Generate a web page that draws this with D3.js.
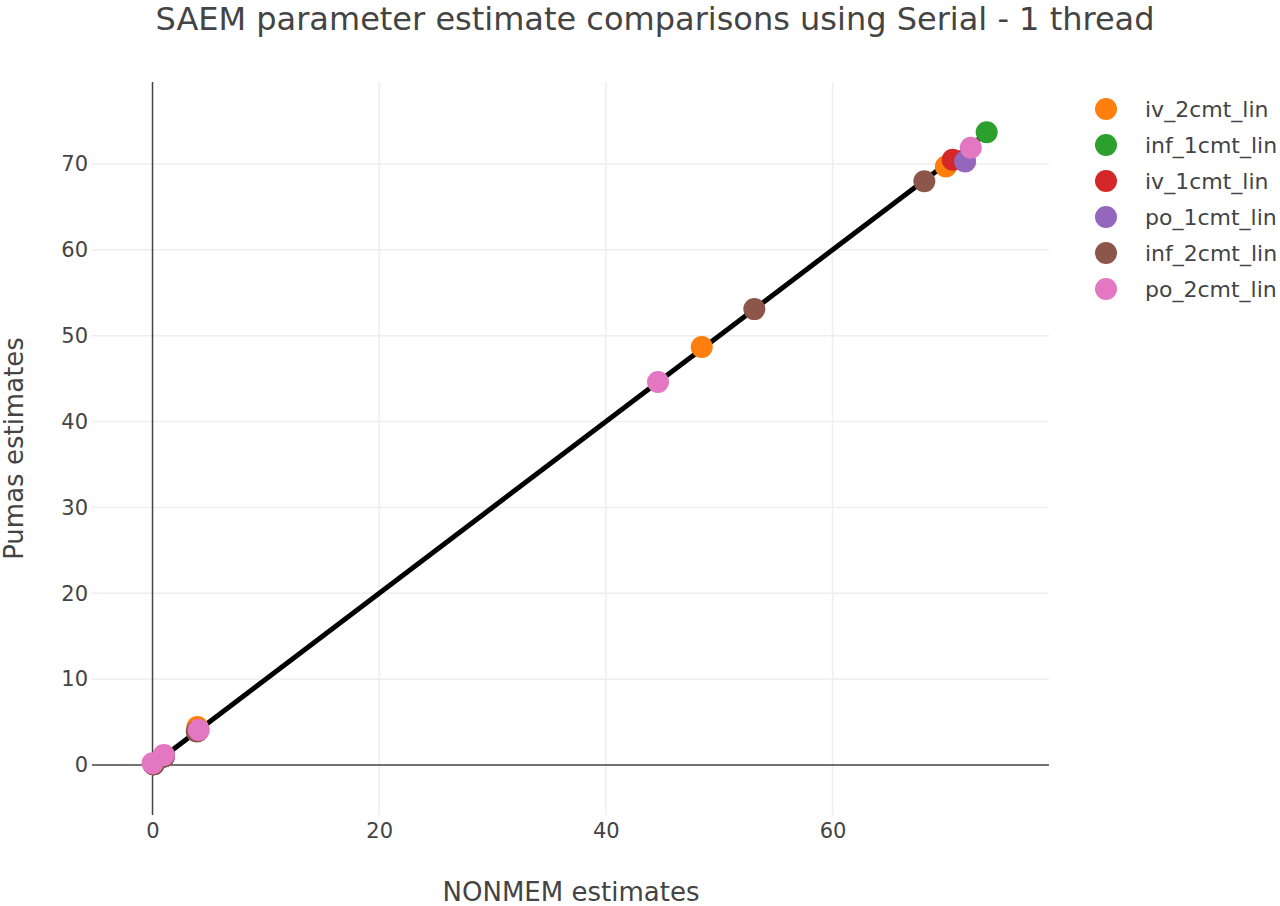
<!DOCTYPE html>
<html>
<head>
<meta charset="utf-8">
<script src="https://cdn.jsdelivr.net/npm/d3@7"></script>
<style>
  body { margin: 0; background: #fff; }
  svg { display: block; font-family: "DejaVu Sans", sans-serif; }
</style>
</head>
<body>
<div id="chart"></div>
<script>
// series names in legend order
const seriesNames = ['iv_2cmt_lin', 'inf_1cmt_lin', 'iv_1cmt_lin', 'po_1cmt_lin', 'inf_2cmt_lin', 'po_2cmt_lin'];
const seriesColors = ['#ff7f0e', '#2ca02c', '#d62728', '#9467bd', '#8c564b', '#e377c2'];

// NONMEM estimates (x) per series
const nonmemValues = [
  [0.1, 1.0, 3.96, 48.46, 70.0],
  [0.1, 1.0, 4.0, 73.6],
  [0.1, 1.0, 4.0, 70.6],
  [0.1, 1.0, 4.0, 71.7],
  [0.1, 1.0, 3.9, 53.1, 68.1],
  [0.0, 1.0, 4.08, 44.6, 72.2],
];
// Pumas estimates (y) per series
const pumasValues = [
  [0.1, 1.1, 4.43, 48.68, 69.7],
  [0.1, 1.0, 4.0, 73.7],
  [0.1, 1.0, 4.0, 70.5],
  [0.1, 1.0, 4.0, 70.3],
  [0.1, 1.0, 3.9, 53.1, 68.0],
  [0.2, 1.16, 4.08, 44.6, 71.9],
];

const xTicks = [0, 20, 40, 60];
const yTicks = [0, 10, 20, 30, 40, 50, 60, 70];

const width = 1280;
const height = 906;
const margin = { left: 92, right: 231, top: 82, bottom: 91 };

const x = d3.scaleLinear()
  .domain([-5.34, 79.1])
  .range([margin.left, width - margin.right]);
const y = d3.scaleLinear()
  .domain([-5.82, 79.55])
  .range([height - margin.bottom, margin.top]);

const svg = d3.select('#chart').append('svg')
  .attr('width', width)
  .attr('height', height);

// grid
const grid = svg.append('g').attr('class', 'grid');
grid.selectAll('line.gx')
  .data(xTicks.filter((d) => d !== 0))
  .enter().append('line')
  .attr('x1', (d) => x(d)).attr('x2', (d) => x(d))
  .attr('y1', y.range()[1]).attr('y2', y.range()[0])
  .attr('stroke', '#eee').attr('stroke-width', 1.5);
grid.selectAll('line.gy')
  .data(yTicks.filter((d) => d !== 0))
  .enter().append('line')
  .attr('x1', x.range()[0]).attr('x2', x.range()[1])
  .attr('y1', (d) => y(d)).attr('y2', (d) => y(d))
  .attr('stroke', '#eee').attr('stroke-width', 1.5);

// zero lines
svg.append('line')
  .attr('x1', x.range()[0]).attr('x2', x.range()[1])
  .attr('y1', y(0)).attr('y2', y(0))
  .attr('stroke', '#444').attr('stroke-width', 1.5);
svg.append('line')
  .attr('x1', x(0)).attr('x2', x(0))
  .attr('y1', y.range()[1]).attr('y2', y.range()[0])
  .attr('stroke', '#444').attr('stroke-width', 1.5);

// tick labels
svg.append('g')
  .attr('transform', `translate(0,${y.range()[0]})`)
  .call(d3.axisBottom(x).tickValues(xTicks).tickSize(0).tickPadding(8))
  .call((g) => g.select('.domain').remove())
  .selectAll('text')
  .attr('fill', '#444')
  .style('font-size', '21px')
  .style('font-family', '"DejaVu Sans", sans-serif');

svg.append('g')
  .attr('transform', `translate(${x.range()[0]},0)`)
  .call(d3.axisLeft(y).tickValues(yTicks).tickSize(0).tickPadding(4))
  .call((g) => g.select('.domain').remove())
  .selectAll('text')
  .attr('fill', '#444')
  .style('font-size', '21px')
  .style('font-family', '"DejaVu Sans", sans-serif');

// identity line
const maxVal = d3.max(nonmemValues.flat().concat(pumasValues.flat()));
svg.append('line')
  .attr('x1', x(0)).attr('y1', y(0))
  .attr('x2', x(maxVal)).attr('y2', y(maxVal))
  .attr('stroke', '#000').attr('stroke-width', 5);

// markers
const points = svg.append('g').attr('class', 'points');
seriesNames.forEach((name, i) => {
  const pts = nonmemValues[i].map((v, j) => ({ nx: v, py: pumasValues[i][j] }));
  points.selectAll(`circle.s${i}`)
    .data(pts)
    .enter().append('circle')
    .attr('class', `s${i}`)
    .attr('cx', (d) => x(d.nx))
    .attr('cy', (d) => y(d.py))
    .attr('r', 11)
    .attr('fill', seriesColors[i]);
});

// legend
const legend = svg.append('g').attr('transform', 'translate(1106,109)');
const item = legend.selectAll('g.item')
  .data(seriesNames)
  .enter().append('g')
  .attr('transform', (d, i) => `translate(0,${i * 36})`);
item.append('circle')
  .attr('r', 11)
  .attr('fill', (d, i) => seriesColors[i]);
item.append('text')
  .attr('x', 39)
  .attr('dy', '0.35em')
  .attr('fill', '#444')
  .style('font-size', '22px')
  .text((d) => d);

// titles
svg.append('text')
  .attr('x', 655).attr('y', 30)
  .attr('text-anchor', 'middle')
  .attr('fill', '#444')
  .style('font-size', '32px')
  .text('SAEM parameter estimate comparisons using Serial - 1 thread');

svg.append('text')
  .attr('x', 571).attr('y', 901)
  .attr('text-anchor', 'middle')
  .attr('fill', '#444')
  .style('font-size', '26px')
  .text('NONMEM estimates');

svg.append('text')
  .attr('transform', `translate(23,${(y.range()[0] + y.range()[1]) / 2}) rotate(-90)`)
  .attr('text-anchor', 'middle')
  .attr('fill', '#444')
  .style('font-size', '26px')
  .text('Pumas estimates');
</script>
</body>
</html>
